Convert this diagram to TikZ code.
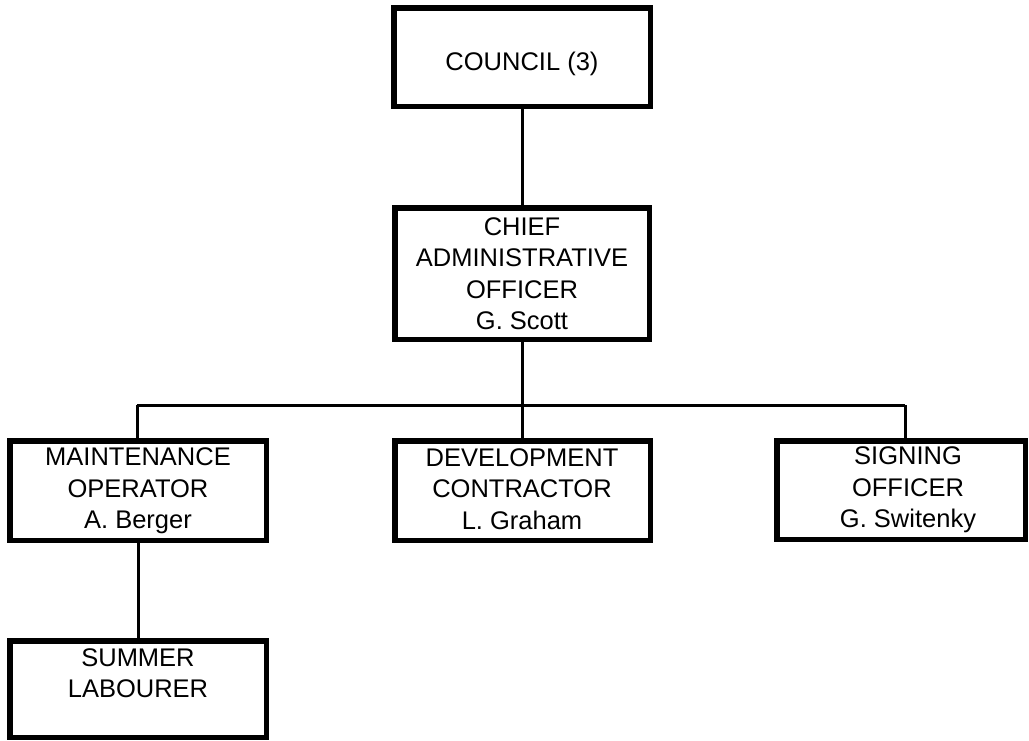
\documentclass[tikz,border=0pt]{standalone}
\usepackage{fontspec}
\setmainfont{Liberation Sans}
\begin{document}
\begin{tikzpicture}[x=1pt,y=-1pt,
  orgbox/.style={draw=black, line width=5.5pt, rectangle, inner sep=0pt, fill=white},
  orgtext/.style={align=center, inner sep=0pt, font=\fontsize{25.5}{31.5}\selectfont},
  conn/.style={draw=black, line width=3pt}]
\useasboundingbox (0,0) rectangle (1029,740);
\fill[white] (0,0) rectangle (1029,740);
% boxes (outer edges measured, path inset by half the line width)
\node[orgbox, minimum width=256.5pt, minimum height=98.5pt] (council) at (522,57) {};
\node[orgbox, minimum width=254.5pt, minimum height=131.5pt] (cao) at (522,273.5) {};
\node[orgbox, minimum width=256.5pt, minimum height=99.5pt] (maint) at (138,490.5) {};
\node[orgbox, minimum width=255.5pt, minimum height=99.5pt] (dev) at (522.5,490.5) {};
\node[orgbox, minimum width=248.5pt, minimum height=98.5pt] (sign) at (901,490) {};
\node[orgbox, minimum width=256.5pt, minimum height=96.5pt] (summer) at (138,689) {};
% texts
\node[orgtext, anchor=base] (councilt) at (522,70) {COUNCIL (3)};
\node[orgtext] (caot) at (522,273.5) {CHIEF\\ADMINISTRATIVE\\OFFICER\\G. Scott};
\node[orgtext] (maintt) at (138,491) {MAINTENANCE\\OPERATOR\\A. Berger};
\node[orgtext] (devt) at (522,489) {DEVELOPMENT\\CONTRACTOR\\L. Graham};
\node[orgtext] (signt) at (908,490) {SIGNING\\OFFICER\\G. Switenky};
\node[orgtext] (summert) at (138,673) {SUMMER\\LABOURER};
% connectors
\coordinate (barL) at (137,405);
\coordinate (barM) at (522,405);
\coordinate (barR) at (905,405);
\draw[conn] (council.south) -- (cao.north);
\draw[conn] (cao.south) -- (barM);
\draw[conn] (barL) -- (barR);
\draw[conn] (barL) -- (barL |- maint.north);
\draw[conn] (barM) -- (barM |- dev.north);
\draw[conn] (barR) -- (barR |- sign.north);
\draw[conn] (maint.south) -- (summer.north);
\end{tikzpicture}
\end{document}
